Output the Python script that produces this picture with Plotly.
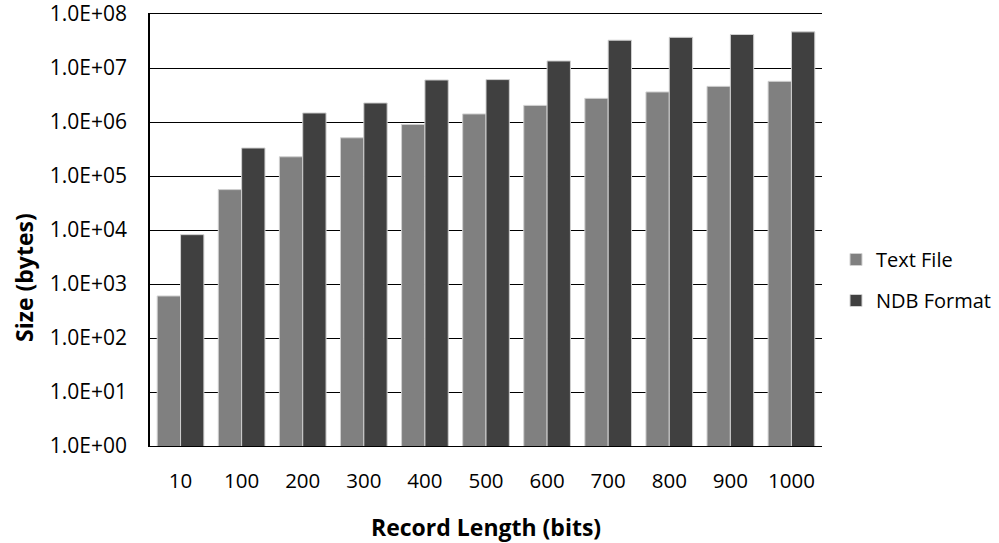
import plotly.graph_objects as go

categories = ["10", "100", "200", "300", "400", "500", "600", "700", "800", "900", "1000"]
text_file = [600, 5.6e4, 2.27e5, 5.1e5, 9.0e5, 1.41e6, 2.03e6, 2.74e6, 3.6e6, 4.57e6, 5.66e6]
ndb_format = [8.2e3, 3.3e5, 1.47e6, 2.25e6, 6.0e6, 6.1e6, 1.35e7, 3.27e7, 3.7e7, 4.17e7, 4.67e7]
series_names = ["Text File", "NDB Format"]
y_tick_vals = [1, 10, 100, 1e3, 1e4, 1e5, 1e6, 1e7, 1e8]
y_tick_text = ["1.0E+00", "1.0E+01", "1.0E+02", "1.0E+03", "1.0E+04",
               "1.0E+05", "1.0E+06", "1.0E+07", "1.0E+08"]

FONT = "Open Sans"

fig = go.Figure()
fig.add_trace(go.Bar(x=categories, y=text_file, name=series_names[0],
                     marker=dict(color="#808080", line=dict(color="#d0d0d0", width=1)),
                     legendgroup="a"))
fig.add_trace(go.Bar(x=categories, y=ndb_format, name=series_names[1],
                     marker=dict(color="#404040", line=dict(color="#d0d0d0", width=1)),
                     legendgroup="b"))

fig.update_layout(
    width=999, height=543,
    margin=dict(l=150, r=177, t=14, b=97, autoexpand=False),
    paper_bgcolor="white", plot_bgcolor="white",
    barmode="group", bargap=0.236, bargroupgap=0,
    font=dict(family=FONT, color="black", size=18),
    showlegend=True,
    legend=dict(x=(836 - 150) / 672, xanchor="left", y=(446 - 280) / 432, yanchor="middle",
                font=dict(family=FONT, size=20, color="black"),
                tracegroupgap=12, bgcolor="rgba(0,0,0,0)"),
    xaxis=dict(showline=True, linecolor="black", linewidth=1.4, mirror=True,
               showgrid=False, ticks="", ticklabelstandoff=16,
               tickfont=dict(family=FONT, size=20.5, color="black")),
    yaxis=dict(type="log", range=[0, 8], tickvals=y_tick_vals, ticktext=y_tick_text,
               showline=True, linecolor="black", linewidth=1.5,
               showgrid=True, gridcolor="black", gridwidth=1.3,
               ticks="", ticklabelstandoff=17, zeroline=False,
               ticklabeloverflow="allow",
               tickfont=dict(family=FONT, size=21, color="black")),
    annotations=[
        dict(text="<b>Record Length (bits)</b>", xref="paper", yref="paper",
             x=0.5, y=(446 - 527) / 432, xanchor="center", yanchor="middle",
             showarrow=False, font=dict(family=FONT, size=23, color="black")),
        dict(text="<b>Size (bytes)</b>", xref="paper", yref="paper",
             x=(24 - 150) / 672, y=(446 - 278) / 432, xanchor="center", yanchor="middle",
             textangle=-90, showarrow=False, font=dict(family=FONT, size=23, color="black")),
    ],
)

fig.write_html("out.html")
